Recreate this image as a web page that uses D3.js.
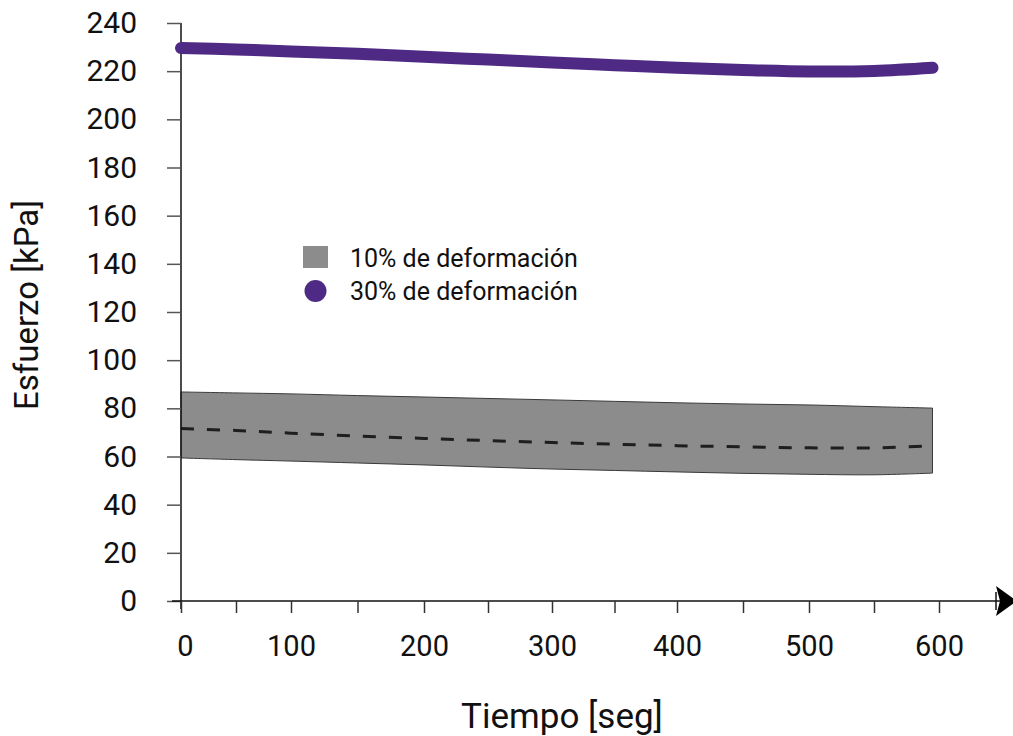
<!DOCTYPE html>
<html lang="es">
<head>
<meta charset="UTF-8">
<title>Esfuerzo vs tiempo</title>
<script src="https://d3js.org/d3.v7.min.js"></script>
<style>
  body { margin: 0; background: #fff; }
  text { font-family: Roboto, "Noto Sans", sans-serif; fill: #111; }
</style>
</head>
<body>
<svg id="chart"></svg>
<script>
const width = 1013, height = 736;

// data
const times    = [0, 50, 100, 150, 200, 250, 300, 350, 400, 450, 500, 550, 595];
const stress30 = [229.6, 229.0, 228.2, 227.2, 226.0, 224.8, 223.6, 222.5, 221.4, 220.5, 219.9, 220.1, 221.4];
const upper10  = [86.8, 86.4, 86.0, 85.3, 84.7, 84.1, 83.5, 82.9, 82.3, 81.8, 81.4, 80.7, 80.1];
const lower10  = [59.4, 58.7, 58.1, 57.3, 56.5, 55.6, 54.8, 54.2, 53.6, 53.0, 52.6, 52.4, 53.1];
const mean10   = [71.6, 70.8, 69.7, 68.5, 67.5, 66.6, 65.8, 65.1, 64.5, 64.0, 63.6, 63.6, 64.4];

const xMajor = [0, 100, 200, 300, 400, 500, 600];
const xTicks = d3.range(0, 601, 50);
const yTicks = d3.range(0, 241, 20);
const legendLabels = ["10% de deformación", "30% de deformación"];

const svg = d3.select("#chart").attr("width", width).attr("height", height);

// the original axis is not evenly spaced, so map each 100 s step to where it sits
const x = d3.scaleLinear().domain(xMajor).range([181, 291, 424, 552, 677, 809, 939]);
const y = d3.scaleLinear().domain([0, 240]).range([601, 23]);

const band = times.map((t, i) => ({ t, lo: lower10[i], hi: upper10[i], m: mean10[i] }));
const line30 = times.map((t, i) => ({ t, v: stress30[i] }));

const smooth = d3.curveCatmullRom.alpha(0.5);

// grey band for 10%
svg.append("path")
  .datum(band)
  .attr("fill", "#8c8c8c")
  .attr("stroke", "#3a3a3a")
  .attr("stroke-width", 1)
  .attr("d", d3.area().curve(smooth)
    .x(d => x(d.t)).y0(d => y(d.lo)).y1(d => y(d.hi)));

svg.append("path")
  .datum(band)
  .attr("fill", "none")
  .attr("stroke", "#1e1e1e")
  .attr("stroke-width", 3)
  .attr("stroke-dasharray", "13,13")
  .attr("d", d3.line().curve(smooth).x(d => x(d.t)).y(d => y(d.m)));

// y axis
const yAxis = svg.append("g")
  .attr("transform", `translate(${x(0)},0)`)
  .call(d3.axisLeft(y).tickValues(yTicks).tickSize(14).tickPadding(30));
yAxis.select(".domain").attr("stroke", "#111").attr("stroke-width", 1.5).attr("d", `M0,${y(240)}V${y(0) + 8}`);
yAxis.selectAll(".tick line").attr("stroke", "#555").attr("stroke-width", 1.5);
yAxis.selectAll(".tick text").attr("font-size", 30).attr("fill", "#111");

// x axis
const xAxis = svg.append("g")
  .attr("transform", `translate(0,${y(0)})`)
  .call(d3.axisBottom(x).tickValues(xTicks).tickSize(12).tickPadding(22)
    .tickFormat(d => d % 100 === 0 ? d : ""));
xAxis.select(".domain").attr("stroke", "#111").attr("stroke-width", 1.5).attr("d", "M172,0H1000");
xAxis.selectAll(".tick line").attr("stroke", "#333").attr("stroke-width", 1.5);
xAxis.selectAll(".tick text").attr("font-size", 29).attr("fill", "#111")
  .attr("dx", d => d === 0 ? 4 : 0);

// arrow head at the end of the x axis
xAxis.append("line").attr("x1", 996).attr("x2", 996).attr("y1", -9).attr("y2", 9)
  .attr("stroke", "#111").attr("stroke-width", 1.5);
xAxis.append("path").attr("d", "M996,-15L1017,0L996,15L1000,0Z").attr("fill", "#000");

// purple 30% line
svg.append("path")
  .datum(line30)
  .attr("fill", "none")
  .attr("stroke", "#4e2a84")
  .attr("stroke-width", 12)
  .attr("stroke-linecap", "round")
  .attr("d", d3.line().curve(smooth).x(d => x(d.t)).y(d => y(d.v)));

// legend
const legend = svg.append("g").attr("transform", "translate(303,246)");
legend.append("rect").attr("width", 25).attr("height", 22).attr("fill", "#8c8c8c");
legend.append("circle").attr("cx", 12.5).attr("cy", 45).attr("r", 11).attr("fill", "#4e2a84");
legend.selectAll("text.lab")
  .data(legendLabels)
  .join("text")
  .attr("class", "lab")
  .attr("x", 47)
  .attr("y", (d, i) => 21 + i * 33)
  .attr("font-size", 25)
  .text(d => d);

// axis titles
svg.append("text")
  .attr("x", 562).attr("y", 728)
  .attr("text-anchor", "middle")
  .attr("font-size", 35)
  .text("Tiempo [seg]");

svg.append("text")
  .attr("transform", "translate(38,305) rotate(-90)")
  .attr("text-anchor", "middle")
  .attr("font-size", 33)
  .text("Esfuerzo [kPa]");
</script>
</body>
</html>
